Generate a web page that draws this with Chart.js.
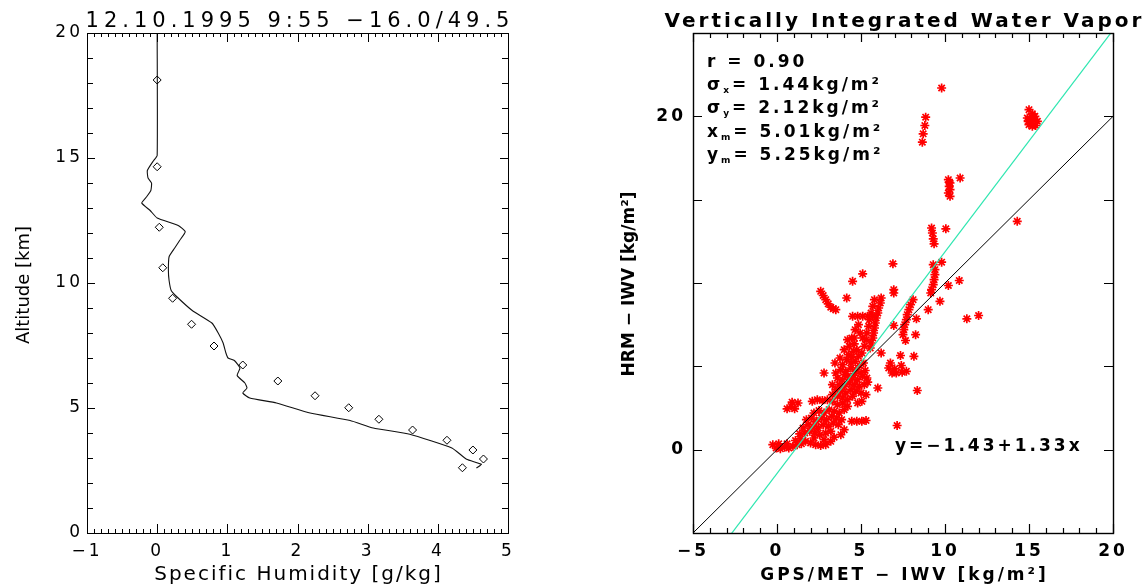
<!DOCTYPE html>
<html>
<head>
<meta charset="utf-8">
<title>Humidity profile and IWV comparison</title>
<script src="https://cdn.jsdelivr.net/npm/chart.js@4.4.1/dist/chart.umd.min.js"></script>
<style>
  html, body { margin: 0; padding: 0; background: #fff; }
  #stage { position: relative; width: 1144px; height: 588px; overflow: hidden; background: #fff; }
  canvas { position: absolute; top: 0; }
  #profileChart { left: 0; }
  #iwvChart { left: 580px; }
</style>
</head>
<body>
<div id="stage">
  <canvas id="profileChart" width="580" height="588"></canvas>
  <canvas id="iwvChart" width="564" height="588"></canvas>
</div>
<script>
// ---------- Specific humidity profile ----------
const profileTitle = '12.10.1995 9:55 \u221216.0/49.5';
// model profile (g/kg, km)
const modelQ = [0, 0, -0.05, -0.14, -0.13, -0.08, -0.09, -0.15, -0.22, -0.1, 0, 0.3, 0.4, 0.32, 0.25, 0.17, 0.16, 0.17, 0.2, 0.28, 0.5, 0.78, 0.87, 0.94, 0.98, 1.01, 1.1, 1.18, 1.14, 1.25, 1.28, 1.22, 1.32, 1.7, 2.18, 2.75, 3.08, 3.6, 4.2, 4.41, 4.62, 4.55];
const modelZ = [20, 15.1, 14.9, 14.5, 14.2, 14.0, 13.7, 13.45, 13.2, 12.9, 12.6, 12.3, 12.05, 11.7, 11.4, 11.05, 10.5, 10.1, 9.7, 9.45, 8.9, 8.4, 8.0, 7.6, 7.2, 7.0, 6.9, 6.6, 6.3, 6.0, 5.8, 5.6, 5.4, 5.2, 4.8, 4.5, 4.2, 3.95, 3.4, 2.95, 2.75, 2.6];
// sonde levels (g/kg, km)
const sondeQ = [0.0, 0.0, 0.03, 0.08, 0.22, 0.49, 0.81, 1.22, 1.72, 2.25, 2.73, 3.16, 3.64, 4.13, 4.50, 4.65, 4.35];
const sondeZ = [18.12, 14.65, 12.23, 10.61, 9.39, 8.35, 7.48, 6.72, 6.08, 5.49, 5.01, 4.55, 4.12, 3.71, 3.32, 2.96, 2.61];
const profileXTicks = [-1, 0, 1, 2, 3, 4, 5];
const profileYTicks = [0, 5, 10, 15, 20];

// ---------- Vertically integrated water vapour (GPS/MET vs HRM) ----------
const iwvLow = [
  [-0.25,0.3],[-0.05,0.1],[0.2,0.05],[0.45,0.15],[0.7,0.1],[0.95,0.2],[1.2,0.3],[1.45,0.35],[0.1,0.35],[0.6,0.35],
  [1.1,0.55],[1.4,0.65],[1.7,0.5],[2.0,0.4],[2.3,0.3],[2.6,0.25],[2.9,0.3],[3.2,0.5],[3.4,0.75],[2.8,0.6],[2.2,0.7],
  [1.35,0.95],[1.65,1.0],[1.95,1.1],[2.25,1.0],[2.55,0.9],[2.9,1.0],[3.2,1.1],[3.8,0.9],[4.0,1.2],
  [1.55,1.3],[1.85,1.5],[2.15,1.4],[2.45,1.3],[2.75,1.5],[3.05,1.4],[3.35,1.6],[3.65,1.5],
  [1.75,1.8],[2.05,1.9],[2.35,1.7],[2.65,1.9],[2.95,1.8],[3.25,2.0],[3.55,1.9],[3.85,1.8],
  [2.2,2.2],[2.5,2.35],[2.8,2.2],[3.1,2.4],[3.4,2.3],[3.7,2.2],[4.0,2.4],
  [0.6,2.45],[0.85,2.6],[1.05,2.45],[1.25,2.8],[0.9,2.85],
  [2.1,2.9],[2.4,3.0],[2.7,2.95],[3.0,3.0],[3.3,2.9],[3.6,2.7],[3.9,2.8],[4.2,2.6],
  [4.45,1.7],[4.75,1.7],[5.05,1.7],[5.3,1.75],[7.15,1.45],
  [4.8,2.8],[5.05,2.9]
];
const iwvMid = [
  [3.3,3.3],[3.6,3.2],[3.9,3.1],[4.2,3.0],[4.5,3.2],
  [3.5,3.6],[3.8,3.5],[4.1,3.4],[4.4,3.6],[4.7,3.5],[5.0,3.4],[5.3,3.3],
  [3.7,3.9],[4.0,3.8],[4.3,4.0],[4.6,3.9],[4.9,3.8],[5.2,3.9],[5.4,4.05],[6.0,3.7],
  [3.6,4.3],[3.9,4.2],[4.2,4.4],[4.5,4.3],[4.8,4.2],[5.1,4.4],[5.35,4.3],
  [2.8,4.6],[3.5,4.6],[3.8,4.8],[4.1,4.7],[4.4,4.9],[4.7,4.8],[5.0,4.6],
  [3.45,5.2],[3.9,5.1],[4.15,5.4],[4.4,5.2],[4.65,5.3],[4.9,5.05],[4.25,5.7],[4.55,5.9],[4.85,5.6],
  [4.0,6.0],[4.3,6.2],[4.6,6.35],[4.2,6.6],[4.75,6.0],
  [3.3,3.9],[3.75,5.5],[4.45,5.55],[5.15,5.2],[5.05,5.8],[4.45,6.7],[4.05,4.5],[4.65,4.55],[5.25,4.75],
  [6.2,5.8],[6.75,5.2],[7.35,5.65],[7.4,5.05],[6.85,4.6],[7.1,4.6],[7.45,4.65],[7.7,4.7],[6.65,4.9],[7.0,4.85],[8.15,5.6],[8.35,3.55]
];
const iwvUpper = [
  [2.6,9.5],[2.75,9.25],[2.9,9.0],[3.05,8.75],[3.2,8.55],[3.35,8.45],[3.5,8.4],
  [4.15,9.1],[4.5,10.1],[5.1,10.55],[6.9,11.15],[6.95,9.6],[6.95,9.4],
  [4.5,8.0],[4.8,8.0],[5.1,8.0],[5.4,8.0],[5.7,8.0],
  [4.65,7.2],[4.6,6.7],[4.85,7.5],[4.95,7.0],[5.1,6.7],
  [6.2,9.1],[6.15,8.8],[6.05,8.5],[6.0,8.2],[5.9,7.9],[5.85,7.6],[5.8,7.3],[5.75,7.0],[5.7,6.7],[5.6,6.4],[5.55,6.1],
  [5.8,9.0],[5.7,8.6],[5.6,8.2],[5.5,7.8],[5.45,7.4],[5.35,7.0],[5.3,6.6],[5.2,6.2],
  [8.1,9.0],[7.95,8.7],[7.85,8.4],[7.75,8.1],[7.7,7.8],[7.6,7.5],[7.55,7.2],[7.5,6.9],
  [6.95,7.45],[8.3,7.85],[8.25,6.9],[7.65,6.55],
  [9.3,11.1],[9.4,10.8],[9.4,10.5],[9.35,10.2],[9.3,9.9],[9.2,9.6],[9.15,9.4],
  [9.8,11.25],[10.85,10.15],[10.2,9.85],[9.7,8.9],[9.0,8.4],[11.3,7.85],[12.0,8.05]
];
const iwvHigh = [
  [9.8,21.7],[8.85,19.95],[8.8,19.45],[8.7,18.95],[8.65,18.45],
  [15.0,20.4],[15.2,20.15],[14.9,19.9],[15.3,19.8],[15.1,19.6],[15.5,19.7],[15.2,19.4],[15.0,19.5],[15.35,20.0],[14.95,19.7],[15.4,19.45],[15.15,19.95],
  [10.2,16.2],[10.3,16.0],[10.25,15.8],[10.3,15.6],[10.2,15.4],[10.3,15.2],[10.25,16.05],
  [10.9,16.3],[14.3,13.7],
  [9.2,13.3],[9.25,13.0],[9.3,12.65],[9.35,12.35],[10.05,13.25]
];
const iwvXTicks = [-5, 0, 5, 10, 15, 20];
const iwvYTicks = [0, 20];
const fitIntercept = -1.43;
const fitSlope = 1.33;
const statNames = ['r', 'sx', 'sy', 'xm', 'ym'];
const statValues = [0.90, 1.44, 2.12, 5.01, 5.25];

// ---------- helpers ----------
const FAMILY = '"DejaVu Sans", "Liberation Sans", sans-serif';
const fmtNum = v => (v < 0 ? '\u2212' + Math.abs(v) : String(v));
const isLabelled = (v, list) => list.some(t => Math.abs(t - v) < 1e-6);
const toPoints = (xs, ys) => xs.map((x, i) => ({ x, y: ys[i] }));

function axis(min, max, step, labelled, font, padding, fit) {
  return {
    type: 'linear', min, max,
    grid: { display: false, drawTicks: false },
    border: { display: false },
    ticks: {
      stepSize: step, maxTicksLimit: 1000, autoSkip: false, maxRotation: 0, minRotation: 0,
      padding, color: '#000', font,
      callback: v => (isLabelled(v, labelled) ? fmtNum(v) : '')
    },
    afterFit: fit
  };
}

// box around the plot area with inward tick marks on all four sides
function boxTicks(cfg) {
  return {
    id: 'boxTicks',
    beforeDraw(chart) { chart.ctx.letterSpacing = cfg.tickSpacing; },
    afterDatasetsDraw(chart) {
      const { ctx, chartArea: a } = chart;
      const xs = chart.scales.x, ys = chart.scales.y;
      ctx.save();
      ctx.letterSpacing = '0px';
      ctx.strokeStyle = '#000';
      ctx.lineWidth = cfg.tickWidth;
      ctx.beginPath();
      xs.ticks.forEach(t => {
        const p = Math.round(xs.getPixelForValue(t.value)) + 0.5;
        const len = isLabelled(t.value, cfg.xMajor) ? cfg.xMajorLen : cfg.xMinorLen;
        ctx.moveTo(p, a.bottom); ctx.lineTo(p, a.bottom - len);
        ctx.moveTo(p, a.top); ctx.lineTo(p, a.top + len);
      });
      ys.ticks.forEach(t => {
        const p = Math.round(ys.getPixelForValue(t.value)) + 0.5;
        const len = isLabelled(t.value, cfg.yMajor) ? cfg.yMajorLen : cfg.yMinorLen;
        ctx.moveTo(a.left, p); ctx.lineTo(a.left + len, p);
        ctx.moveTo(a.right, p); ctx.lineTo(a.right - len, p);
      });
      ctx.stroke();
      ctx.lineWidth = cfg.frameWidth;
      ctx.strokeRect(Math.round(a.left) + 0.5, Math.round(a.top) + 0.5,
                     Math.round(a.right - a.left), Math.round(a.bottom - a.top));
      ctx.restore();
    }
  };
}

function drawText(ctx, text, x, y, font, spacing, align) {
  ctx.font = font;
  ctx.letterSpacing = spacing + 'px';
  ctx.textAlign = align || 'left';
  ctx.textBaseline = 'alphabetic';
  ctx.fillStyle = '#000';
  const shift = align === 'center' ? spacing / 2 : 0;
  ctx.fillText(text, x + shift, y);
}

// text with subscript runs: parts = [{t, sub}]
function drawRich(ctx, parts, x, y, font, subFont, spacing) {
  let cx = x;
  ctx.letterSpacing = spacing + 'px';
  ctx.textAlign = 'left';
  ctx.textBaseline = 'alphabetic';
  ctx.fillStyle = '#000';
  parts.forEach(p => {
    ctx.font = p.sub ? subFont : font;
    const dy = p.sub ? 3 : 0;
    ctx.fillText(p.t, cx, y + dy);
    cx += ctx.measureText(p.t).width;
  });
}

// ---------- left panel: humidity profile ----------
const thinTick = { family: FAMILY, size: 17, weight: 'normal' };
new Chart(document.getElementById('profileChart'), {
  type: 'scatter',
  data: {
    datasets: [
      {
        data: toPoints(modelQ, modelZ), showLine: true, borderColor: '#111',
        borderWidth: 1.1, pointRadius: 0, tension: 0.15, order: 1
      },
      {
        data: toPoints(sondeQ, sondeZ), pointStyle: 'rectRot', pointRadius: 4,
        borderColor: '#000', borderWidth: 1, backgroundColor: 'rgba(255,255,255,0)', order: 0
      }
    ]
  },
  options: {
    responsive: false, animation: false, devicePixelRatio: 1,
    layout: { padding: { left: 0, right: 72, top: 33, bottom: 0 } },
    plugins: { legend: { display: false }, tooltip: { enabled: false } },
    scales: {
      x: axis(-1, 5, 0.1, profileXTicks, thinTick, 8, s => { s.height = 55; }),
      y: axis(0, 20, 1, profileYTicks, thinTick, 4, s => { s.width = 87; })
    }
  },
  plugins: [
    boxTicks({ tickSpacing: '3px', tickWidth: 1, frameWidth: 1,
      xMajor: profileXTicks, xMajorLen: 9, xMinorLen: 4,
      yMajor: profileYTicks, yMajorLen: 8, yMinorLen: 6 }),
    {
      id: 'profileText',
      afterDraw(chart) {
        const { ctx, chartArea: a } = chart;
        const cx = (a.left + a.right) / 2;
        ctx.save();
        drawText(ctx, profileTitle, cx, 27, `normal 21px ${FAMILY}`, 5, 'center');
        drawText(ctx, 'Specific Humidity [g/kg]', cx, 580, `normal 20px ${FAMILY}`, 2, 'center');
        ctx.translate(29, (a.top + a.bottom) / 2 + 2);
        ctx.rotate(-Math.PI / 2);
        drawText(ctx, 'Altitude [km]', 0, 0, `normal 18px ${FAMILY}`, 0, 'center');
        ctx.restore();
      }
    }
  ]
});

// ---------- right panel: IWV scatter ----------
const boldTick = { family: FAMILY, size: 17, weight: 'bold' };
const iwvPoints = [...iwvLow, ...iwvMid, ...iwvUpper, ...iwvHigh].map(([x, y]) => ({ x, y }));
const xLo = -5, xHi = 20;
new Chart(document.getElementById('iwvChart'), {
  type: 'scatter',
  data: {
    datasets: [
      {
        data: iwvPoints, pointStyle: 'star', pointRadius: 4.5,
        borderColor: '#ff0000', backgroundColor: '#ff0000', borderWidth: 1.7, order: 2
      },
      {
        data: [{ x: xLo, y: xLo }, { x: xHi, y: xHi }], showLine: true,
        borderColor: '#000', borderWidth: 1, pointRadius: 0, order: 1
      },
      {
        data: [{ x: xLo, y: fitIntercept + fitSlope * xLo }, { x: xHi, y: fitIntercept + fitSlope * xHi }],
        showLine: true, borderColor: '#2ee6b0', borderWidth: 1.2, pointRadius: 0, order: 0
      }
    ]
  },
  options: {
    responsive: false, animation: false, devicePixelRatio: 1,
    layout: { padding: { left: 0, right: 31, top: 33, bottom: 0 } },
    plugins: { legend: { display: false }, tooltip: { enabled: false } },
    scales: {
      x: axis(xLo, xHi, 1, iwvXTicks, boldTick, 8, s => { s.height = 55; }),
      y: axis(-5, 25, 5, iwvYTicks, boldTick, 7, s => { s.width = 113; })
    }
  },
  plugins: [
    boxTicks({ tickSpacing: '3px', tickWidth: 1.2, frameWidth: 1.4,
      xMajor: iwvXTicks, xMajorLen: 9, xMinorLen: 5,
      yMajor: [-5, 0, 5, 10, 15, 20, 25], yMajorLen: 9, yMinorLen: 9 }),
    {
      id: 'iwvText',
      afterDraw(chart) {
        const { ctx, chartArea: a } = chart;
        const cx = (a.left + a.right) / 2;
        const bold = `bold 17px ${FAMILY}`;
        const sub = `bold 9px ${FAMILY}`;
        ctx.save();
        drawText(ctx, 'Vertically Integrated Water Vapor', cx, 27, `bold 20px ${FAMILY}`, 3, 'center');

        const v = statValues.map(s => s.toFixed(2));
        const lines = [
          [{ t: 'r = ' + v[0] }],
          [{ t: '\u03c3' }, { t: 'x', sub: true }, { t: '= ' + v[1] + 'kg/m\u00b2' }],
          [{ t: '\u03c3' }, { t: 'y', sub: true }, { t: '= ' + v[2] + 'kg/m\u00b2' }],
          [{ t: 'x' }, { t: 'm', sub: true }, { t: '= ' + v[3] + 'kg/m\u00b2' }],
          [{ t: 'y' }, { t: 'm', sub: true }, { t: '= ' + v[4] + 'kg/m\u00b2' }]
        ];
        const baselines = [67, 90, 113, 136.5, 159.5];
        lines.forEach((parts, i) => drawRich(ctx, parts, a.left + 14, baselines[i], bold, sub, 3));

        const eq = 'y=' + fmtNum(fitIntercept) + '+' + fitSlope.toFixed(2) + 'x';
        drawText(ctx, eq, a.left + 202, 451, bold, 3, 'left');
        drawText(ctx, 'GPS/MET \u2212 IWV [kg/m\u00b2]', cx, 580, bold, 3, 'center');
        ctx.translate(54, (a.top + a.bottom) / 2 + 1);
        ctx.rotate(-Math.PI / 2);
        drawText(ctx, 'HRM \u2212 IWV [kg/m\u00b2]', 0, 0, bold, 0, 'center');
        ctx.restore();
      }
    }
  ]
});
</script>
</body>
</html>
